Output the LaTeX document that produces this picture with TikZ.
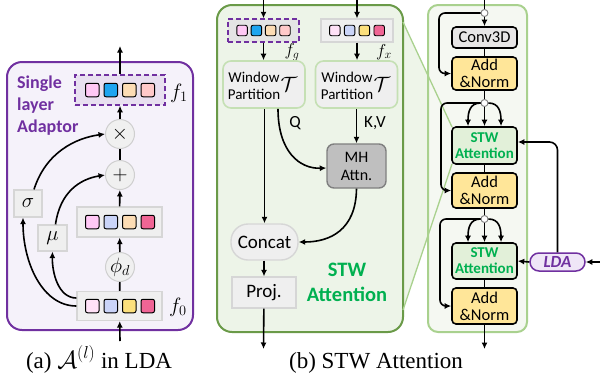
\documentclass[tikz,border=0pt]{standalone}
\usepackage{fontspec}
\setmainfont{Liberation Serif}
\setsansfont{Carlito}
\usetikzlibrary{arrows.meta}
\definecolor{ldapurple}{HTML}{7030A0}
\definecolor{leftfill}{HTML}{F5F2FA}
\definecolor{fonefill}{HTML}{E8E0F0}
\definecolor{sqpink}{HTML}{FFC8F5}
\definecolor{sqblue}{HTML}{1EA5F0}
\definecolor{sqpeach}{HTML}{FCDCB4}
\definecolor{sqred}{HTML}{FFC9C9}
\definecolor{sqlpink}{HTML}{FFE1F7}
\definecolor{sqlav}{HTML}{CAD4F8}
\definecolor{sqyel}{HTML}{FCE07C}
\definecolor{sqmag}{HTML}{F06595}
\definecolor{gfill}{HTML}{EFEFEF}
\definecolor{gbord}{HTML}{D6D6D6}
\definecolor{cfill}{HTML}{F0F0F0}
\definecolor{cbord}{HTML}{CFCFCF}
\definecolor{midfill}{HTML}{EDF4E8}
\definecolor{midbord}{HTML}{6A9A48}
\definecolor{wpbord}{HTML}{C5E0B4}
\definecolor{mhfill}{HTML}{BFBFBF}
\definecolor{mhbord}{HTML}{7F7F7F}
\definecolor{stwgreen}{HTML}{00B050}
\definecolor{rfill}{HTML}{F5F8F2}
\definecolor{rbord}{HTML}{A9D18E}
\definecolor{anfill}{HTML}{FFE699}
\definecolor{convfill}{HTML}{E7E6E6}
\definecolor{stwfill}{HTML}{E2F0D9}
\definecolor{ldafill}{HTML}{EFE6F7}
\definecolor{zoomfill}{HTML}{EEF5E9}
\newcommand\myfs[2]{\fontsize{#1}{#2}\selectfont}
\tikzset{
  conn/.style={line width=1.6pt, draw=black},
  arr/.style={conn, -{Latex[length=6.5pt,width=6pt]}},
  sqr/.style={draw=black, line width=1pt, rounded corners=2pt, minimum size=13.5, inner sep=0},
  smsq/.style={draw=black, line width=0.9pt, rounded corners=2pt, minimum size=10.5, inner sep=0},
  graybox/.style={draw=gbord, fill=gfill, line width=1.2pt, inner sep=0},
  circ/.style={circle, draw=cbord, fill=cfill, line width=1pt, minimum size=29, inner sep=0, font=\myfs{20}{20}},
  dot/.style={circle, draw=gray, fill=white, line width=0.9pt, minimum size=7, inner sep=0},
  wpbox/.style={draw=wpbord, fill=gfill, line width=1.6pt, rounded corners=8pt, minimum width=82, minimum height=47, inner sep=0},
  sansl/.style={font=\sffamily\myfs{15}{17}, align=center, inner sep=0},
  blk/.style={draw=black, line width=1.6pt, rounded corners=4pt, minimum width=65, inner sep=0, font=\sffamily\myfs{16.5}{17}, align=center},
  mlab/.style={font=\myfs{20}{20}, inner sep=0}
}
\begin{document}
\begin{tikzpicture}[x=1pt,y=-1pt]
\useasboundingbox (0,0) rectangle (600,381);
% zoom trapezoid
\fill[zoomfill] (403,22) -- (452,127) -- (452,164) -- (403,310) -- cycle;
% panels
\node[draw=ldapurple, fill=leftfill, line width=2pt, rounded corners=15pt, minimum width=186, minimum height=268, inner sep=0] (lpanel) at (100,196) {};
\node[draw=midbord, fill=midfill, line width=2pt, rounded corners=15pt, minimum width=186, minimum height=327, inner sep=0] (mpanel) at (310,168.5) {};
\node[draw=rbord, fill=rfill, line width=2pt, rounded corners=10pt, minimum width=99, minimum height=327, inner sep=0] (rpanel) at (477.5,168.5) {};
\draw[rbord, line width=1.3pt] (403,22) -- (452,127);
\draw[rbord, line width=1.3pt] (403,310) -- (452,164);

% ---------------- left panel ----------------
\node[anchor=north west, align=left, text=ldapurple, font=\sffamily\bfseries\myfs{18}{22}, inner sep=0] (sla) at (17,76) {Single\\layer\\Adaptor};
\node[draw=ldapurple, dash pattern=on 5pt off 3pt, fill=fonefill, line width=1.5pt, minimum width=90, minimum height=30, inner sep=0] (f1) at (120,90) {};
\foreach \c [count=\i] in {sqpink,sqblue,sqpeach,sqred}
  \node[sqr, fill=\c] (fa\i) at ({120+(\i-2.5)*18.5},90) {};
\node[mlab] (f1l) at (179,93) {$f_1$};
\node[circ] (times) at (120,134) {$\times$};
\node[circ] (plus) at (120,175) {$+$};
\node[graybox, minimum width=85, minimum height=30] (mid) at (119.5,222) {};
\foreach \c [count=\i] in {sqpink,sqlav,sqpeach,sqmag}
  \node[sqr, fill=\c] (fb\i) at ({120+(\i-2.5)*18.5},222) {};
\node[circ] (phi) at (120,267) {$\phi_d$};
\node[graybox, minimum width=85, minimum height=29] (f0) at (119.5,306) {};
\foreach \c [count=\i] in {sqlpink,sqlav,sqyel,sqmag}
  \node[sqr, fill=\c] (fc\i) at ({120+(\i-2.5)*18.5},306) {};
\node[mlab] (f0l) at (178,307) {$f_0$};
\node[graybox, minimum width=28, minimum height=27, font=\myfs{20}{20}] (sigma) at (28,203.5) {$\sigma$};
\node[graybox, minimum width=29, minimum height=26, font=\myfs{20}{20}] (mu) at (52.5,238) {$\mu$};
\coordinate (aout) at (120,46);
\coordinate (ain) at (120,341);
\draw[arr] (f1) -- (aout);
\draw[arr] (times) -- (f1);
\draw[conn] (plus) -- (times);
\draw[arr] (mid) -- (plus);
\draw[arr] (phi) -- (mid);
\draw[conn] (f0) -- (phi);
\draw[arr] (ain) -- (f0);
\draw[arr] (f0.west) .. controls (42,306) and (23,262) .. ([xshift=-5pt]sigma.south);
\draw[arr] ([yshift=8pt]f0.west) .. controls (58,298) and (52,272) .. (mu.south);
\draw[arr] ([xshift=6pt]sigma.north) .. controls (46,152) and (76,138) .. (times.west);
\draw[arr] ([xshift=3pt]mu.north) .. controls (60,192) and (80,179) .. (plus.west);
\node[anchor=base, font=\myfs{23}{26}, inner sep=0] (capa) at (99,368) {(a) $\mathcal{A}^{(l)}$ in LDA};

% ---------------- middle panel ----------------
\node[draw=ldapurple, dash pattern=on 5pt off 3pt, fill=gfill!90!gray, line width=1.4pt, minimum width=71, minimum height=23, inner sep=0] (fg) at (263.5,30.5) {};
\foreach \c [count=\i] in {sqpink,sqblue,sqpeach,sqred}
  \node[smsq, fill=\c] (fgs\i) at ({263.5+(\i-2.5)*14.3},30.5) {};
\node[graybox, minimum width=72, minimum height=23] (fx) at (357,30.5) {};
\foreach \c [count=\i] in {sqlpink,sqlav,sqyel,sqmag}
  \node[smsq, fill=\c] (fxs\i) at ({357+(\i-2.5)*14.8},30.5) {};
\node[font=\myfs{18}{18}, inner sep=0] (fgl) at (292,52) {$f_g$};
\node[font=\myfs{18}{18}, inner sep=0] (fxl) at (384,52) {$f_x$};
\node[wpbox] (wpl) at (264,84.5) {};
\node[sansl] (wplt) at (254,86) {Window\\Partition};
\node[font=\myfs{22}{22}, inner sep=0] (wplT) at (289,84) {$\mathcal{T}$};
\node[wpbox] (wpr) at (356.5,84.5) {};
\node[sansl] (wprt) at (347,86) {Window\\Partition};
\node[font=\myfs{22}{22}, inner sep=0] (wprT) at (382,84) {$\mathcal{T}$};
\node[draw=mhbord, fill=mhfill, line width=1.4pt, rounded corners=7pt, minimum width=59, minimum height=44, inner sep=0, font=\sffamily\myfs{16}{18}, align=center] (mh) at (356.5,166) {MH\\Attn.};
\node[draw=gbord, fill=gfill, line width=1.4pt, rounded corners=17pt, minimum width=67, minimum height=36, inner sep=0, font=\sffamily\myfs{19}{19}] (concat) at (264.5,242) {Concat};
\node[graybox, minimum width=64, minimum height=31, font=\sffamily\myfs{19}{19}] (proj) at (264,292.5) {Proj.};
\node[font=\sffamily\myfs{17}{17}, inner sep=0] (ql) at (295,123) {Q};
\node[font=\sffamily\myfs{17}{17}, inner sep=0] (kvl) at (375,123) {K,V};
\node[font=\sffamily\bfseries\myfs{20.5}{25}, text=stwgreen, align=center, inner sep=0] (stwl) at (347,282) {STW\\Attention};
\coordinate (gin) at (263.5,0);
\coordinate (xin) at (357,0);
\coordinate (mout) at (263.5,349);
\draw[arr] (gin) -- (fg);
\draw[arr] (xin) -- (fx);
\draw[arr] (fg) -- (fg |- wpl.north);
\draw[arr] (fx) -- (fx |- wpr.north);
\draw[arr] (wpr.south -| mh) -- (mh.north);
\draw[arr] (wpl.south -| concat) -- (concat.north);
\draw[arr] ([xshift=14pt]wpl.south) .. controls (278,152) and (300,169) .. ([yshift=-2pt]mh.west);
\draw[arr] (mh.south) .. controls (356,230) and (330,242) .. (concat.east);
\draw[arr] (concat.south -| proj) -- (proj.north);
\draw[arr] (proj) -- (mout);
\node[anchor=base, font=\myfs{23}{26}, inner sep=0] (capb) at (376,368) {(b) STW Attention};

% ---------------- right panel ----------------
\node[dot] (c1) at (484.5,13) {};
\node[blk, fill=convfill, minimum height=21] (conv) at (484.5,37.5) {Conv3D};
\node[blk, fill=anfill, minimum height=33] (an1) at (484.5,73.5) {Add\\\&Norm};
\node[dot] (c2) at (484.5,103) {};
\node[blk, fill=stwfill, minimum height=37, font=\sffamily\bfseries\myfs{15}{16}, text=stwgreen] (stw1) at (484.5,145.5) {STW\\Attention};
\node[blk, fill=anfill, minimum height=35] (an2) at (484.5,190.5) {Add\\\&Norm};
\node[dot] (c3) at (484.5,219) {};
\node[blk, fill=stwfill, minimum height=36, font=\sffamily\bfseries\myfs{15}{16}, text=stwgreen] (stw2) at (484.5,261) {STW\\Attention};
\node[blk, fill=anfill, minimum height=36] (an3) at (484.5,306) {Add\\\&Norm};
\node[draw=ldapurple, fill=ldafill, line width=1.5pt, rounded corners=9pt, minimum width=55, minimum height=18, inner sep=0, font=\sffamily\bfseries\itshape\myfs{17}{17}, text=ldapurple] (lda) at (557.5,262) {LDA};
\coordinate (rin) at (484.5,0);
\coordinate (rout) at (484.5,349);
\coordinate (ldain) at (600,262);
\draw[conn] (rin) -- (c1);
\draw[arr] (c1) -- (conv);
\draw[conn] (conv) -- (an1);
\draw[arr, rounded corners=6pt] (c1.west) -- (439,13) |- (an1.west);
\draw[conn] (an1) -- (c2);
\draw[arr, rounded corners=6pt] (c2.west) -- (441,103) |- (an2.west);
\draw[arr] (c2) -- (stw1);
\draw[arr] (c2.west) .. controls (470,103) and (468,112) .. ([xshift=-16.5pt]stw1.north);
\draw[arr] (c2.east) .. controls (499,103) and (501,112) .. ([xshift=16.5pt]stw1.north);
\draw[conn] (stw1) -- (an2);
\draw[conn] (an2) -- (c3);
\draw[arr, rounded corners=6pt] (c3.west) -- (440,219) |- (an3.west);
\draw[arr] (c3) -- (stw2);
\draw[arr] (c3.west) .. controls (470,219) and (468,228) .. ([xshift=-16.5pt]stw2.north);
\draw[arr] (c3.east) .. controls (499,219) and (501,228) .. ([xshift=16.5pt]stw2.north);
\draw[conn] (stw2) -- (an3);
\draw[arr] (an3) -- (rout);
\draw[arr] (ldain) -- (lda.east);
\draw[arr] (lda.west) -- (stw2.east);
\draw[arr, rounded corners=8pt] (lda.north) |- ([yshift=3.5pt]stw1.east);
\end{tikzpicture}
\end{document}
